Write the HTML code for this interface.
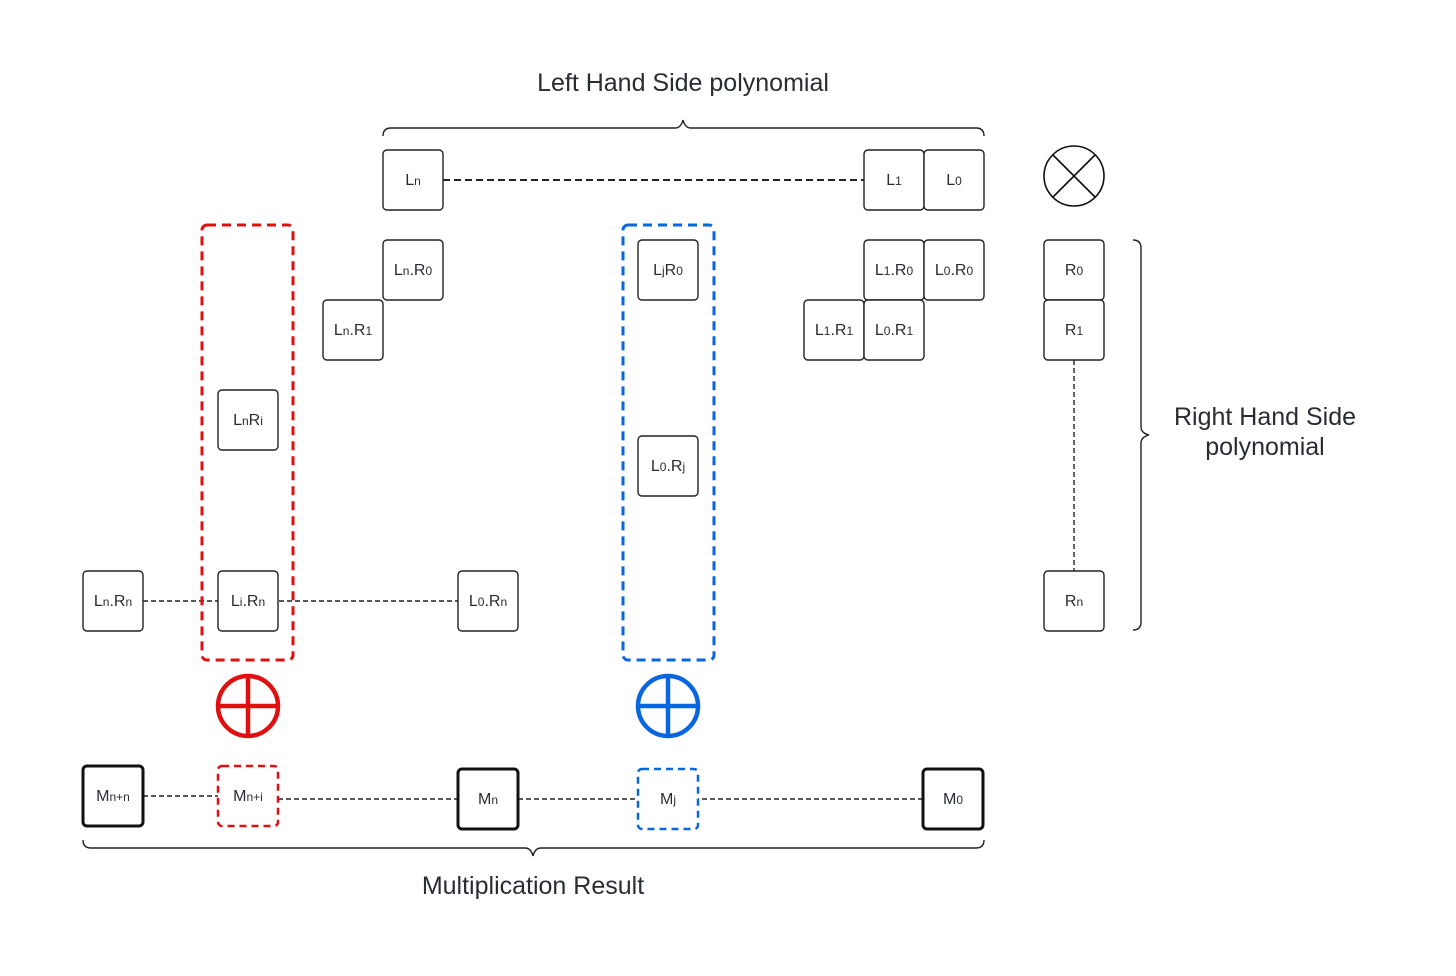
<!DOCTYPE html>
<html><head><meta charset="utf-8"><style>
body{margin:0;background:#fff}
svg{display:block}
text{font-family:"Liberation Sans",sans-serif;fill:#282c33}
.b{fill:#fff;stroke:#222;stroke-width:1.4}
.t{font-size:16px;text-anchor:middle}
.d{stroke:#222;stroke-width:1.4;stroke-dasharray:5 3;fill:none}
.s{font-size:12px}
</style></head><body>
<svg width="1456" height="976" viewBox="0 0 1456 976">
<line class="d" x1="443" y1="180" x2="864" y2="180" style="stroke-width:2;stroke-dasharray:7 4"/>
<line class="d" x1="143" y1="601" x2="458" y2="601"/>
<line class="d" x1="1074" y1="360" x2="1074" y2="571"/>
<line class="d" x1="143" y1="796" x2="218" y2="796"/>
<line class="d" x1="278" y1="799" x2="923" y2="799"/>
<path d="M383,136 Q383,128 391,128 L675,128 Q681,128 683,120 Q685,128 691,128 L976,128 Q984,128 984,136" fill="none" stroke="#222" stroke-width="1.4"/>
<path d="M83,840 Q83,848 91,848 L525,848 Q531,848 533,856 Q535,848 541,848 L976,848 Q984,848 984,840" fill="none" stroke="#222" stroke-width="1.4"/>
<path d="M1133,240 Q1141,240 1141,248 L1141,427 Q1141,433 1149,435 Q1141,437 1141,443 L1141,622 Q1141,630 1133,630" fill="none" stroke="#222" stroke-width="1.4"/>
<rect x="202" y="225" width="91" height="435" rx="5" fill="none" stroke="#e01010" stroke-width="3" stroke-dasharray="9 6"/>
<rect x="623" y="225" width="91" height="435" rx="5" fill="none" stroke="#0a66e0" stroke-width="3" stroke-dasharray="9 6"/>
<g>
<rect class="b" x="383" y="150" width="60" height="60" rx="4"/><text class="t" x="413" y="185">L<tspan class="s">n</tspan></text>
<rect class="b" x="864" y="150" width="60" height="60" rx="4"/><text class="t" x="894" y="185">L<tspan class="s">1</tspan></text>
<rect class="b" x="924" y="150" width="60" height="60" rx="4"/><text class="t" x="954" y="185">L<tspan class="s">0</tspan></text>
<rect class="b" x="383" y="240" width="60" height="60" rx="4"/><text class="t" x="413" y="275">L<tspan class="s">n</tspan>.R<tspan class="s">0</tspan></text>
<rect class="b" x="638" y="240" width="60" height="60" rx="4"/><text class="t" x="668" y="275">L<tspan class="s">j</tspan>R<tspan class="s">0</tspan></text>
<rect class="b" x="864" y="240" width="60" height="60" rx="4"/><text class="t" x="894" y="275">L<tspan class="s">1</tspan>.R<tspan class="s">0</tspan></text>
<rect class="b" x="924" y="240" width="60" height="60" rx="4"/><text class="t" x="954" y="275">L<tspan class="s">0</tspan>.R<tspan class="s">0</tspan></text>
<rect class="b" x="1044" y="240" width="60" height="60" rx="4"/><text class="t" x="1074" y="275">R<tspan class="s">0</tspan></text>
<rect class="b" x="323" y="300" width="60" height="60" rx="4"/><text class="t" x="353" y="335">L<tspan class="s">n</tspan>.R<tspan class="s">1</tspan></text>
<rect class="b" x="804" y="300" width="60" height="60" rx="4"/><text class="t" x="834" y="335">L<tspan class="s">1</tspan>.R<tspan class="s">1</tspan></text>
<rect class="b" x="864" y="300" width="60" height="60" rx="4"/><text class="t" x="894" y="335">L<tspan class="s">0</tspan>.R<tspan class="s">1</tspan></text>
<rect class="b" x="1044" y="300" width="60" height="60" rx="4"/><text class="t" x="1074" y="335">R<tspan class="s">1</tspan></text>
<rect class="b" x="218" y="390" width="60" height="60" rx="4"/><text class="t" x="248" y="425">L<tspan class="s">n</tspan>R<tspan class="s">i</tspan></text>
<rect class="b" x="638" y="436" width="60" height="60" rx="4"/><text class="t" x="668" y="471">L<tspan class="s">0</tspan>.R<tspan class="s">j</tspan></text>
<rect class="b" x="83" y="571" width="60" height="60" rx="4"/><text class="t" x="113" y="606">L<tspan class="s">n</tspan>.R<tspan class="s">n</tspan></text>
<rect class="b" x="218" y="571" width="60" height="60" rx="4"/><text class="t" x="248" y="606">L<tspan class="s">i</tspan>.R<tspan class="s">n</tspan></text>
<rect class="b" x="458" y="571" width="60" height="60" rx="4"/><text class="t" x="488" y="606">L<tspan class="s">0</tspan>.R<tspan class="s">n</tspan></text>
<rect class="b" x="1044" y="571" width="60" height="60" rx="4"/><text class="t" x="1074" y="606">R<tspan class="s">n</tspan></text>
</g>
<rect x="83" y="766" width="60" height="60" rx="4" fill="#fff" stroke="#111" stroke-width="3"/><text class="t" x="113" y="801">M<tspan class="s">n+n</tspan></text>
<rect x="218" y="766" width="60" height="60" rx="4" fill="#fff" stroke="#e01010" stroke-width="2.5" stroke-dasharray="7 5"/><text class="t" x="248" y="801">M<tspan class="s">n+i</tspan></text>
<rect x="458" y="769" width="60" height="60" rx="4" fill="#fff" stroke="#111" stroke-width="3"/><text class="t" x="488" y="804">M<tspan class="s">n</tspan></text>
<rect x="638" y="769" width="60" height="60" rx="4" fill="#fff" stroke="#0a66e0" stroke-width="2.5" stroke-dasharray="7 5"/><text class="t" x="668" y="804">M<tspan class="s">j</tspan></text>
<rect x="923" y="769" width="60" height="60" rx="4" fill="#fff" stroke="#111" stroke-width="3"/><text class="t" x="953" y="804">M<tspan class="s">0</tspan></text>
<g stroke="#e01010" stroke-width="4.5" fill="none"><circle cx="248" cy="706" r="30"/><line x1="248" y1="676" x2="248" y2="736"/><line x1="218" y1="706" x2="278" y2="706"/></g>
<g stroke="#0a66e0" stroke-width="4.5" fill="none"><circle cx="668" cy="706" r="30"/><line x1="668" y1="676" x2="668" y2="736"/><line x1="638" y1="706" x2="698" y2="706"/></g>
<g stroke="#111" stroke-width="1.6" fill="none"><circle cx="1074" cy="176" r="30"/><line x1="1053" y1="155" x2="1095" y2="197"/><line x1="1095" y1="155" x2="1053" y2="197"/></g>
<text x="683" y="91" font-size="25" text-anchor="middle">Left Hand Side polynomial</text>
<text x="533" y="894" font-size="25" text-anchor="middle">Multiplication Result</text>
<text x="1265" y="425" font-size="25" text-anchor="middle">Right Hand Side</text>
<text x="1265" y="455" font-size="25" text-anchor="middle">polynomial</text>
</svg>
</body></html>
